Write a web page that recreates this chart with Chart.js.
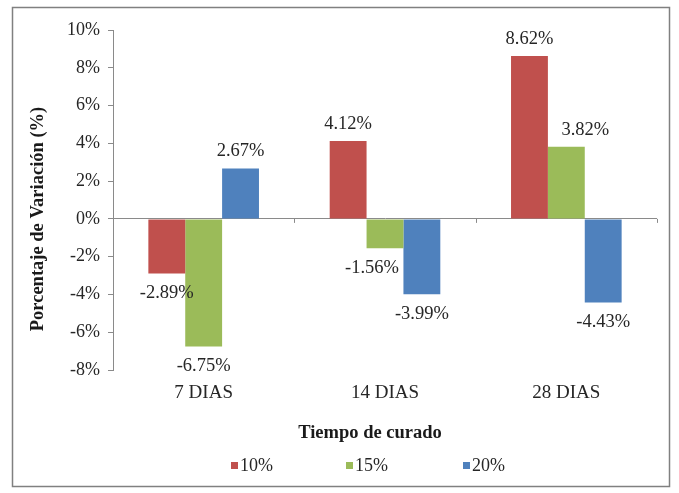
<!DOCTYPE html>
<html>
<head>
<meta charset="utf-8">
<script src="https://cdn.jsdelivr.net/npm/chart.js@4"></script>
<style>
  html, body { margin: 0; padding: 0; background: #ffffff; }
  #wrap { position: relative; width: 679px; height: 493px; }
</style>
</head>
<body>
<div id="wrap"><canvas id="chart" width="679" height="493"></canvas></div>
<script>
// Curing time groups and variation (%) per replacement level
const categories = ['7 DIAS', '14 DIAS', '28 DIAS'];
const seriesLabels = ['10%', '15%', '20%'];
const values10 = [-2.89, 4.12, 8.62];
const values15 = [-6.75, -1.56, 3.82];
const values20 = [2.67, -3.99, -4.43];
const seriesColors = ['#c0504d', '#9bbb59', '#4f81bd'];
const yTicks = [-8, -6, -4, -2, 0, 2, 4, 6, 8, 10];

const serif = "'Liberation Serif', 'Times New Roman', serif";
const axisGray = '#8a8a8a';
const textColor = '#262626';

// Horizontal nudges for value labels that would crowd a neighbouring bar
const labelNudge = { '1-1': -13, '1-2': 19 };

// Frame, zero line marks, value labels, axis titles and legend
const decorations = {
  id: 'decorations',
  afterDraw(chart) {
    const ctx = chart.ctx;
    const x = chart.scales.x;
    const y = chart.scales.y;
    ctx.save();

    // outer frame
    ctx.strokeStyle = '#808080';
    ctx.lineWidth = 1.5;
    ctx.strokeRect(12.5, 7.5, 657, 479);

    // small marks between categories on the zero line
    const y0 = y.getPixelForValue(0);
    ctx.strokeStyle = axisGray;
    ctx.lineWidth = 1;
    const n = categories.length;
    for (let i = 1; i <= n; i++) {
      const px = Math.round(x.left + i * (x.width / n)) + 0.5;
      ctx.beginPath();
      ctx.moveTo(px, y0);
      ctx.lineTo(px, y0 + 4);
      ctx.stroke();
    }

    // value labels
    ctx.font = '18.5px ' + serif;
    ctx.fillStyle = textColor;
    ctx.textAlign = 'center';
    ctx.textBaseline = 'middle';
    chart.data.datasets.forEach((ds, di) => {
      const meta = chart.getDatasetMeta(di);
      meta.data.forEach((bar, i) => {
        const v = ds.data[i];
        const ty = v >= 0 ? bar.y - 17 : bar.y + 20;
        const dx = labelNudge[di + '-' + i] || 0;
        ctx.fillText(v.toFixed(2) + '%', bar.x + dx, ty);
      });
    });

    // axis titles
    ctx.font = 'bold 18.5px ' + serif;
    ctx.fillStyle = '#1a1a1a';
    ctx.fillText('Tiempo de curado', 370, 433);
    ctx.save();
    ctx.translate(38, 219);
    ctx.rotate(-Math.PI / 2);
    ctx.fillText('Porcentaje de Variación (%)', 0, 0);
    ctx.restore();

    // legend
    const legendX = [231, 346, 463];
    ctx.font = '18px ' + serif;
    ctx.textAlign = 'left';
    chart.data.datasets.forEach((ds, di) => {
      const lx = legendX[di];
      ctx.fillStyle = ds.backgroundColor;
      ctx.fillRect(lx, 462, 7, 7);
      ctx.fillStyle = textColor;
      ctx.fillText(ds.label, lx + 9, 466);
    });

    ctx.restore();
  }
};

new Chart(document.getElementById('chart'), {
  type: 'bar',
  data: {
    labels: categories,
    datasets: [
      { label: seriesLabels[0], data: values10, backgroundColor: seriesColors[0] },
      { label: seriesLabels[1], data: values15, backgroundColor: seriesColors[1] },
      { label: seriesLabels[2], data: values20, backgroundColor: seriesColors[2] }
    ]
  },
  options: {
    responsive: false,
    animation: false,
    devicePixelRatio: 1,
    layout: { padding: { left: 26, right: 22, top: 30, bottom: 0 } },
    datasets: { bar: { categoryPercentage: 0.61, barPercentage: 1.0 } },
    plugins: {
      legend: { display: false },
      tooltip: { enabled: false }
    },
    scales: {
      x: {
        grid: { display: false, drawTicks: false },
        border: { display: false },
        ticks: {
          color: textColor,
          padding: 12,
          font: { family: serif, size: 19 }
        },
        afterFit(scale) { scale.height = 123; }
      },
      y: {
        min: -8,
        max: 10,
        afterBuildTicks(scale) { scale.ticks = yTicks.map(v => ({ value: v })); },
        border: { display: true, color: axisGray, width: 1 },
        grid: {
          drawOnChartArea: true,
          color: ctx => (ctx.tick && ctx.tick.value === 0 ? axisGray : 'rgba(0,0,0,0)'),
          tickColor: axisGray,
          tickLength: 5,
          lineWidth: 1
        },
        ticks: {
          color: textColor,
          padding: 8,
          font: { family: serif, size: 18 },
          callback: v => v + '%'
        },
        afterFit(scale) { scale.width = 113 - 26; }
      }
    }
  },
  plugins: [decorations]
});
</script>
</body>
</html>
